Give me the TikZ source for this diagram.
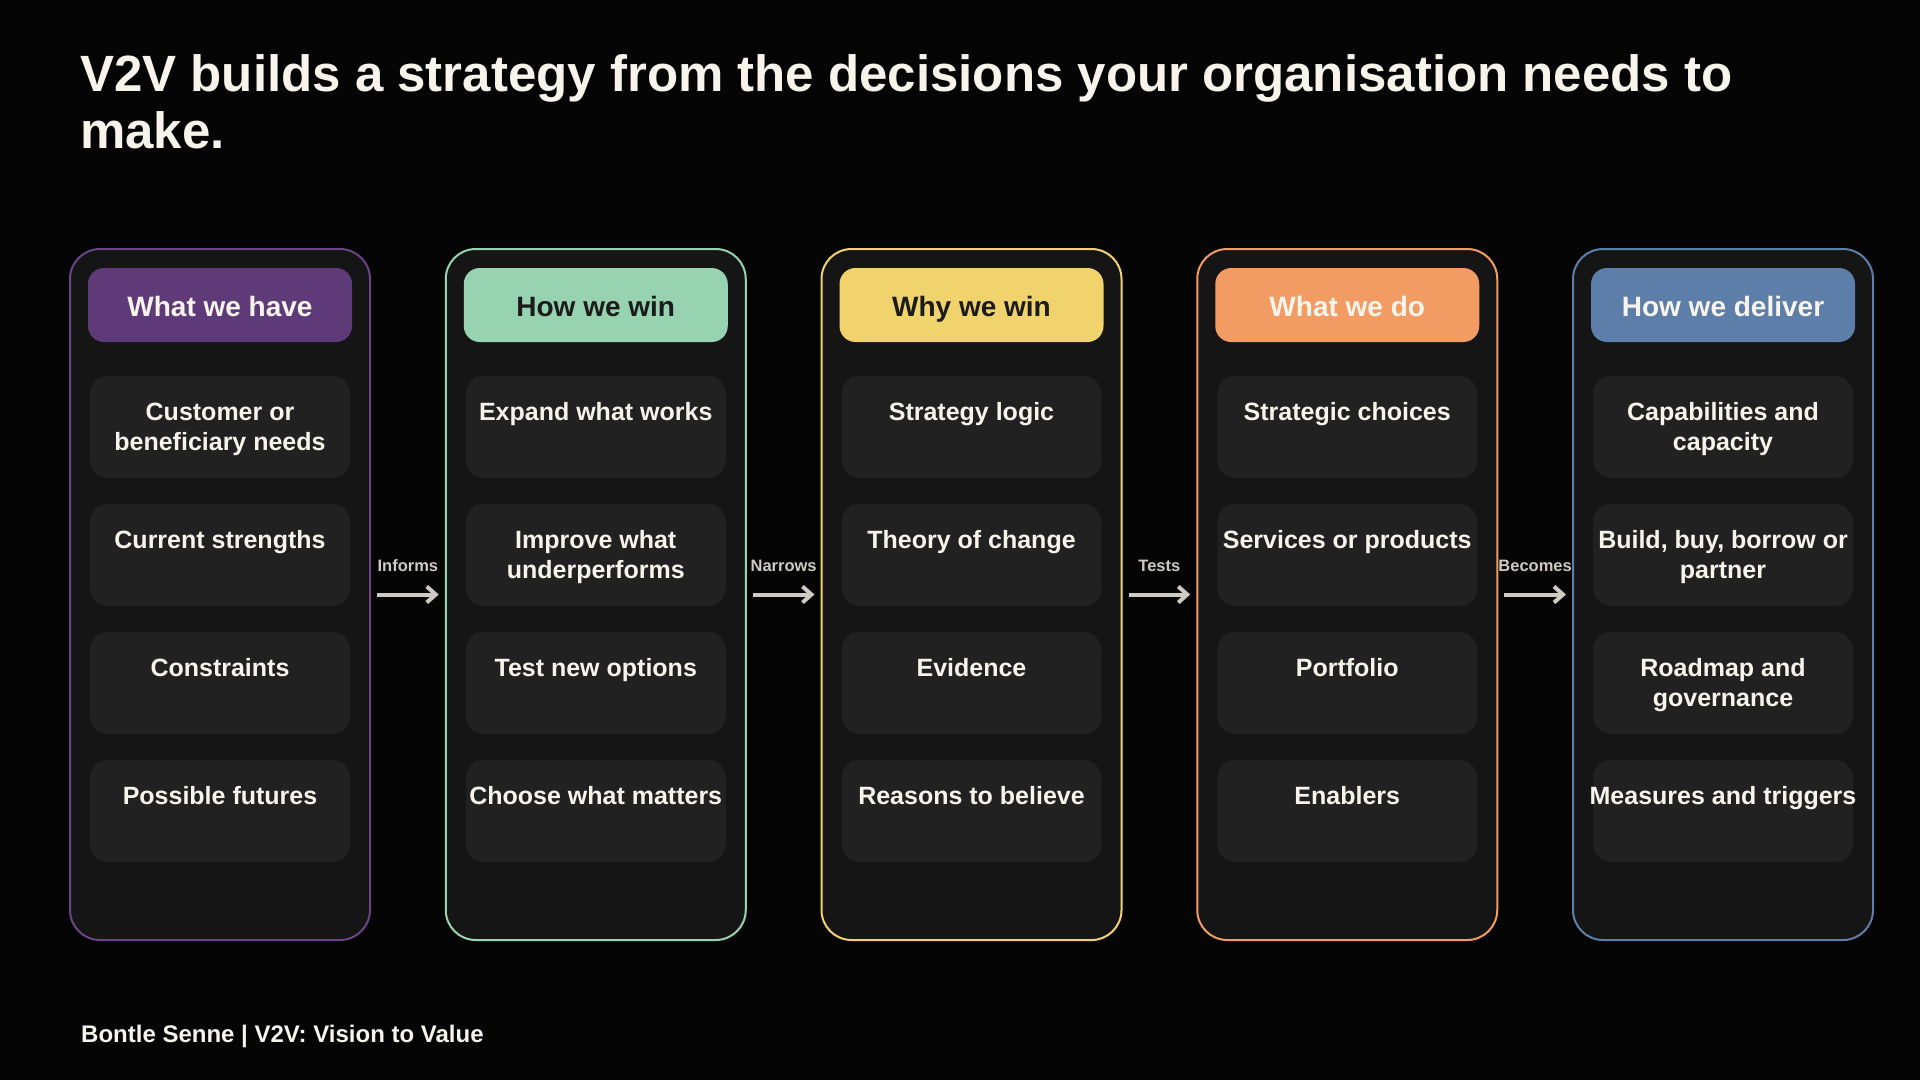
\documentclass[tikz,border=0pt]{standalone}
\usepackage{fontspec}
\setmainfont{Liberation Sans}
\usetikzlibrary{arrows.meta}
\definecolor{bg}{HTML}{050505}
\definecolor{colfill}{HTML}{151515}
\definecolor{itemfill}{HTML}{212121}
\definecolor{txt}{HTML}{F7F4EC}
\definecolor{dark}{HTML}{1B1B1B}
\definecolor{flowgray}{HTML}{CFCAC3}
\definecolor{cpurple}{HTML}{5E3B78}
\definecolor{bpurple}{HTML}{6A4487}
\definecolor{cgreen}{HTML}{97D3B1}
\definecolor{cyellow}{HTML}{F0D36C}
\definecolor{corange}{HTML}{F29B63}
\definecolor{cblue}{HTML}{5D7EA8}
\tikzset{
  colbox/.style={draw=#1, line width=2pt, fill=colfill, rounded corners=30pt,
    minimum width=300pt, minimum height=691pt, inner sep=0pt},
  headbox/.style={fill=#1, rounded corners=16pt, minimum width=264pt, minimum height=74pt,
    inner sep=0pt, text height=22pt, text depth=0pt,
    font=\bfseries\fontsize{28pt}{32pt}\selectfont},
  itembox/.style={fill=itemfill, rounded corners=18pt, minimum width=260pt,
    minimum height=102pt, inner sep=0pt},
  itemtext/.style={anchor=base, inner sep=0pt, text=txt,
    font=\bfseries\fontsize{25pt}{30pt}\selectfont},
  flow/.style={draw=flowgray, line width=4pt, -{Straight Barb[length=9pt,width=16pt]},
    shorten <=6pt, shorten >=6pt},
  flowlabel/.style={text=flowgray, font=\bfseries\fontsize{16.5pt}{20pt}\selectfont,
    anchor=base, inner sep=0pt, yshift=23.5pt},
  plaintext/.style={anchor=base west, inner sep=0pt, text=txt},
}
\newcommand\drawitem[3]{%
  \pgfmathsetmacro\cy{427+128*(#2-1)}%
  \pgfmathsetmacro\by{420+128*(#2-1)}%
  \node[itembox] (item#1-#2) at (\cx,\cy) {};
  \node[itemtext] (itext#1-#2) at (\cx,\by) {\parbox[t]{300pt}{\centering #3}};
}
\newcommand\drawcol[9]{%
  \pgfmathsetmacro\cx{220+375.75*#1}%
  \node[colbox=#2] (col#1) at (\cx,594.5) {};
  \node[headbox=#3, text=#4] (head#1) at (\cx,305) {#5};
  \drawitem{#1}{1}{#6}
  \drawitem{#1}{2}{#7}
  \drawitem{#1}{3}{#8}
  \drawitem{#1}{4}{#9}
}
\begin{document}
\begin{tikzpicture}[x=1pt,y=-1pt]
\fill[bg] (0,0) rectangle (1920,1080);
\useasboundingbox (0,0) rectangle (1920,1080);

\node[plaintext, font=\bfseries\fontsize{51pt}{57pt}\selectfont] (title) at (80,91)
  {\parbox[t]{1820pt}{\raggedright V2V builds a strategy from the decisions your organisation needs to\\make.}};

\drawcol{0}{bpurple}{cpurple}{txt}{What we have}
  {Customer or\\beneficiary needs}{Current strengths}{Constraints}{Possible futures}
\drawcol{1}{cgreen}{cgreen}{dark}{How we win}
  {Expand what works}{Improve what\\underperforms}{Test new options}{Choose what matters}
\drawcol{2}{cyellow}{cyellow}{dark}{Why we win}
  {Strategy logic}{Theory of change}{Evidence}{Reasons to believe}
\drawcol{3}{corange}{corange}{txt}{What we do}
  {Strategic choices}{Services or products}{Portfolio}{Enablers}
\drawcol{4}{cblue}{cblue}{txt}{How we deliver}
  {Capabilities and\\capacity}{Build, buy, borrow or\\partner}{Roadmap and\\governance}{Measures and triggers}

\draw[flow] (col0.east) -- node[flowlabel] (lab1) {Informs} (col1.west);
\draw[flow] (col1.east) -- node[flowlabel] (lab2) {Narrows} (col2.west);
\draw[flow] (col2.east) -- node[flowlabel] (lab3) {Tests} (col3.west);
\draw[flow] (col3.east) -- node[flowlabel] (lab4) {Becomes} (col4.west);

\node[plaintext, font=\bfseries\fontsize{24pt}{28pt}\selectfont] (footer) at (81,1042)
  {Bontle Senne | V2V: Vision to Value};
\end{tikzpicture}
\end{document}
